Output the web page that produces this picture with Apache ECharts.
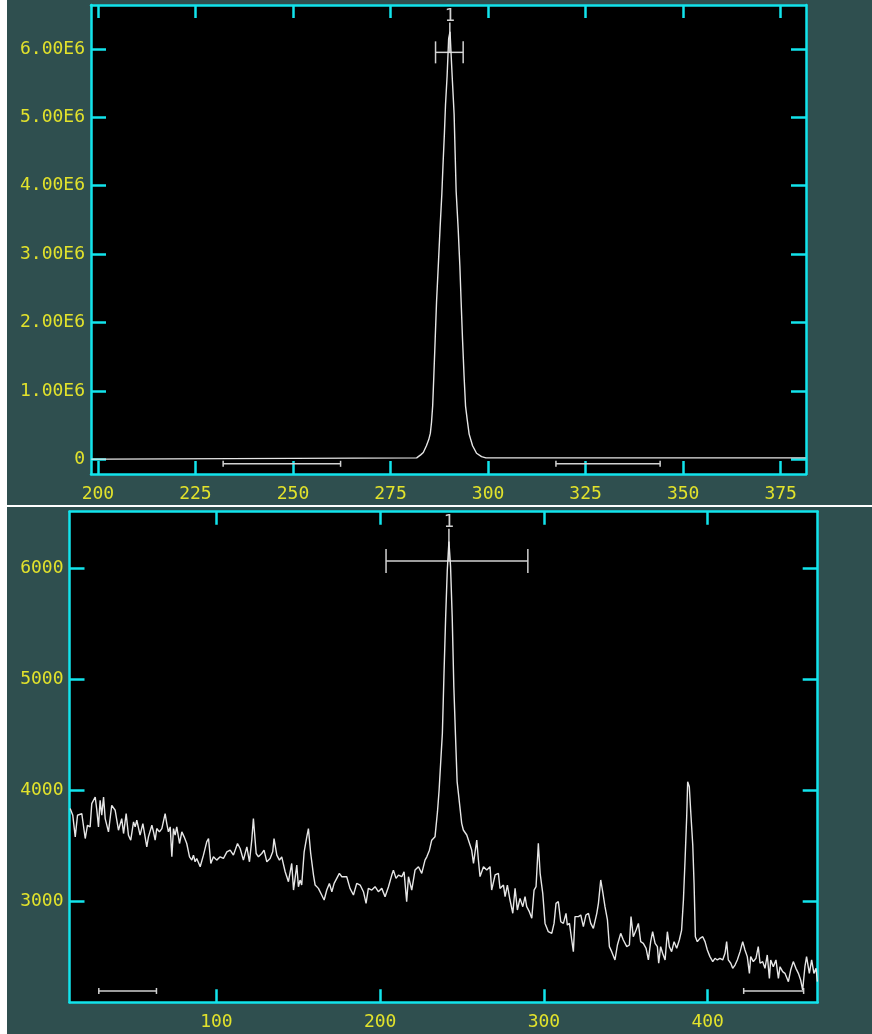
<!DOCTYPE html>
<html>
<head>
<meta charset="utf-8">
<script src="https://cdn.jsdelivr.net/npm/echarts@6/dist/echarts.min.js"></script>
<style>
html, body { margin: 0; padding: 0; background: #ffffff; }
#spectra { width: 872px; height: 1034px; }
</style>
</head>
<body>
<div id="spectra"></div>
<script>
// upper spectrum (single line, values in counts)
const topX = [198.3, 202.5, 202.8, 281.7, 282.1, 282.8, 283.4, 284.2, 284.8, 285.2, 285.5, 285.8,
    286.1, 286.45, 286.8, 287.26, 287.7, 288.15, 288.45, 288.8, 289.1, 289.5, 289.9, 290.25,
    290.8, 291.3, 291.56, 291.82, 292.33, 292.77, 293.1, 293.46, 293.85, 294.23, 294.64, 295.15,
    296.03, 297.05, 298.33, 299.44, 381.4];
const topY = [4000, 4000, 23000, 23000, 40000, 70000, 100000, 200000, 290000, 380000, 540000, 780000,
    1220000, 1760000, 2310000, 2850000, 3380000, 3880000, 4300000, 4750000, 5190000, 5600000, 6150000, 6250000,
    5600000, 5040000, 4480000, 3920000, 3380000, 2830000, 2300000, 1750000, 1220000, 780000, 590000, 370000,
    200000, 90000, 40000, 23000, 23000];

// lower spectrum
const botX = [10.7, 12.3, 13.8, 15.2, 17.8, 18.8, 19.9, 21.3, 22.9, 23.9, 26.0, 27.0, 28.0, 29.0, 30.0,
    31.1, 32.1, 34.1, 36.1, 38.2, 39.2, 40.2, 42.2, 43.3, 44.9, 46.3, 47.7, 49.4, 50.4, 51.4,
    53.4, 55.1, 57.5, 58.5, 60.6, 61.6, 62.6, 63.6, 65.2, 66.7, 68.7, 69.7, 70.7, 71.8, 72.8,
    73.8, 74.8, 75.8, 77.5, 78.9, 80.3, 81.9, 83.6, 85.0, 86.0, 87.0, 88.0, 90.1, 92.1, 94.1,
    95.2, 96.6, 98.2, 100.2, 102.3, 104.3, 106.4, 108.4, 110.4, 112.9, 114.5, 116.5, 118.6, 120.2, 121.6,
    122.6, 124.3, 125.7, 127.7, 129.1, 130.8, 132.8, 134.4, 135.2, 136.9, 138.5, 139.9, 142.0, 144.0, 146.0,
    147.1, 149.1, 150.1, 151.1, 152.1, 153.6, 155.2, 156.2, 157.6, 159.3, 160.3, 162.3, 164.3, 165.8, 167.4,
    169.0, 170.5, 171.9, 173.5, 175.1, 176.6, 179.6, 181.6, 183.7, 185.7, 187.8, 189.8, 191.4, 192.8, 194.9,
    196.9, 198.9, 201.0, 203.0, 205.1, 207.1, 208.1, 209.7, 211.2, 213.2, 214.6, 216.2, 217.3, 219.3, 221.3,
    223.4, 225.4, 227.4, 228.5, 230.1, 231.5, 233.5, 235.0, 236.0, 237.0, 238.0, 239.0, 240.0, 241.0, 242.0,
    243.0, 244.0, 245.0, 246.0, 247.0, 247.8, 249.8, 250.8, 252.9, 255.9, 257.0, 259.0, 260.0, 261.0, 263.1,
    265.1, 267.1, 268.1, 270.2, 272.2, 273.2, 275.3, 276.3, 277.7, 279.3, 281.0, 282.4, 283.8, 285.4, 287.1,
    288.5, 289.5, 291.1, 292.6, 294.0, 295.2, 296.6, 297.7, 299.3, 300.7, 302.7, 304.8, 306.2, 307.4, 308.8,
    310.3, 311.9, 313.5, 314.3, 315.6, 317.0, 318.0, 319.0, 321.1, 322.5, 324.1, 325.7, 327.2, 328.6, 330.2,
    332.3, 333.3, 334.7, 335.9, 337.3, 338.8, 340.0, 341.4, 343.4, 344.9, 346.9, 348.5, 350.6, 352.2, 353.2,
    354.6, 356.3, 357.7, 359.1, 360.7, 362.4, 363.8, 365.2, 366.4, 367.9, 369.3, 370.1, 371.3, 372.5, 374.0,
    375.4, 376.6, 378.0, 379.5, 381.1, 382.7, 384.1, 385.2, 386.2, 387.2, 387.8, 388.8, 389.6, 390.9, 391.7,
    392.5, 393.7, 395.3, 397.0, 398.4, 399.8, 401.4, 403.1, 404.5, 405.9, 407.5, 409.2, 410.6, 411.6, 412.6,
    414.1, 415.3, 416.7, 418.1, 419.8, 421.4, 422.8, 424.2, 425.5, 426.3, 427.9, 429.5, 430.9, 432.0, 433.6,
    435.0, 436.4, 437.7, 438.5, 440.1, 441.7, 443.2, 444.2, 445.8, 447.2, 449.3, 450.7, 452.3, 453.9, 455.4,
    456.8, 458.0, 459.4, 460.4, 462.1, 463.5, 464.9, 466.2, 467.0];
const botY = [3834, 3774, 3579, 3774, 3789, 3804, 3564, 3684, 3669, 3879, 3939, 3819, 3669, 3909, 3774,
    3939, 3744, 3624, 3864, 3819, 3834, 3639, 3744, 3609, 3789, 3594, 3549, 3714, 3669, 3729,
    3594, 3699, 3489, 3579, 3684, 3624, 3549, 3654, 3624, 3654, 3789, 3699, 3624, 3669, 3399,
    3654, 3594, 3669, 3519, 3624, 3579, 3519, 3399, 3369, 3414, 3354, 3384, 3309, 3414, 3534,
    3564, 3339, 3399, 3369, 3399, 3384, 3444, 3459, 3414, 3519, 3474, 3369, 3489, 3354, 3549,
    3744, 3429, 3399, 3429, 3459, 3354, 3384, 3444, 3564, 3414, 3369, 3399, 3264, 3174, 3339,
    3099, 3324, 3129, 3189, 3144, 3444, 3579, 3654, 3429, 3234, 3144, 3114, 3054, 3009, 3099,
    3159, 3084, 3159, 3204, 3249, 3219, 3219, 3114, 3054, 3159, 3144, 3084, 2979, 3114, 3099,
    3129, 3084, 3114, 3039, 3129, 3234, 3279, 3204, 3234, 3219, 3264, 2994, 3219, 3099, 3279,
    3309, 3249, 3369, 3399, 3459, 3549, 3579, 3804, 4000, 4258, 4514, 5056, 5560, 5988, 6244,
    6018, 5567, 4935, 4499, 4078, 3972, 3701, 3641, 3596, 3460, 3340, 3550, 3370, 3220, 3310,
    3280, 3310, 3099, 3235, 3250, 3114, 3144, 3039, 3144, 3009, 2889, 3114, 2919, 3024, 2949,
    3039, 2949, 2904, 2844, 3099, 3129, 3520, 3250, 3069, 2798, 2723, 2708, 2798, 2979, 2994,
    2813, 2798, 2889, 2783, 2798, 2648, 2543, 2859, 2859, 2874, 2768, 2874, 2889, 2798, 2753,
    2889, 2979, 3190, 3084, 2949, 2829, 2588, 2543, 2468, 2603, 2708, 2648, 2588, 2603, 2859,
    2678, 2738, 2798, 2633, 2618, 2573, 2468, 2633, 2723, 2618, 2588, 2438, 2588, 2528, 2468,
    2723, 2588, 2543, 2633, 2573, 2648, 2738, 3009, 3370, 3761, 4077, 4032, 3821, 3505, 3159,
    2678, 2633, 2663, 2678, 2633, 2558, 2498, 2453, 2483, 2468, 2483, 2468, 2528, 2633, 2468,
    2438, 2392, 2422, 2468, 2543, 2633, 2558, 2498, 2347, 2498, 2453, 2483, 2588, 2438, 2453,
    2392, 2513, 2302, 2468, 2407, 2468, 2302, 2407, 2362, 2347, 2272, 2377, 2453, 2392, 2347,
    2287, 2197, 2407, 2498, 2347, 2468, 2347, 2392, 2272];

// tick values
const topXTicks = [200, 225, 250, 275, 300, 325, 350, 375];
const topYTicks = [0, 1000000, 2000000, 3000000, 4000000, 5000000, 6000000];
const botXTicks = [100, 200, 300, 400];
const botYTicks = [3000, 4000, 5000, 6000];

// line markers: cross = [x centre, x left, x right, y bar, y top of stem, y of label]
const topCross = [290.2, 286.54, 293.62, 5949000, 6387000, 6478000];
const botCross = [242.0, 203.6, 290.2, 6070, 6361, 6414];
// range bars: [x from, x to, y]
const topRanges = [[232.1, 262.2, -64000], [317.4, 344.1, -64000]];
const botRanges = [[28.2, 63.4, 2188], [422.0, 458.6, 2188]];

var chartDom = document.getElementById('spectra');
var myChart = echarts.init(chartDom);

const CYAN = '#12e4ec';
const YELLOW = '#e2e22c';
const TRACE = '#e6e6e6';
const MARK = '#d2d2d2';
const FONT = 'DejaVu Sans Mono';

function fmtTop(v) {
    return v === 0 ? '0' : (v / 1e6).toFixed(2) + 'E6';
}
function fmtPlain(v) {
    return String(v);
}

function xAxisPair(grid, min, max, ticks) {
    const base = {
        type: 'value', gridIndex: grid, min: min, max: max,
        splitLine: { show: false },
        axisLine: { onZero: false, lineStyle: { color: CYAN, width: 2.5 } },
        axisTick: { inside: true, length: 13, customValues: ticks, lineStyle: { color: CYAN, width: 2.5 } }
    };
    return [
        Object.assign({}, base, {
            position: 'bottom',
            axisLabel: { customValues: ticks, formatter: fmtPlain, color: YELLOW, fontFamily: FONT, fontSize: 18, margin: 11 }
        }),
        Object.assign({}, base, { position: 'top', axisLabel: { show: false } })
    ];
}

function yAxisPair(grid, min, max, ticks, fmt) {
    const base = {
        type: 'value', gridIndex: grid, min: min, max: max,
        splitLine: { show: false },
        axisLine: { onZero: false, lineStyle: { color: CYAN, width: 2.5 } },
        axisTick: { inside: true, length: 15, customValues: ticks, lineStyle: { color: CYAN, width: 2.5 } }
    };
    return [
        Object.assign({}, base, {
            position: 'left',
            axisLabel: { customValues: ticks, formatter: fmt, color: YELLOW, fontFamily: FONT, fontSize: 18, margin: 6 }
        }),
        Object.assign({}, base, { position: 'right', axisLabel: { show: false } })
    ];
}

function markerRenderer(cross, ranges, capCross, capRange) {
    return function (params, api) {
        const kids = [];
        const seg = (a, b) => kids.push({
            type: 'line',
            shape: { x1: a[0], y1: a[1], x2: b[0], y2: b[1] },
            style: { stroke: MARK, lineWidth: 1.5 }
        });
        const l = api.coord([cross[1], cross[3]]);
        const r = api.coord([cross[2], cross[3]]);
        const c = api.coord([cross[0], cross[3]]);
        const t = api.coord([cross[0], cross[4]]);
        const lab = api.coord([cross[0], cross[5]]);
        seg(l, r);
        seg([l[0], l[1] - capCross], [l[0], l[1] + capCross]);
        seg([r[0], r[1] - capCross], [r[0], r[1] + capCross]);
        seg(t, c);
        kids.push({
            type: 'text', x: lab[0], y: lab[1],
            style: { text: '1', fill: MARK, font: '17px ' + FONT, align: 'center', verticalAlign: 'middle' }
        });
        ranges.forEach(function (rg) {
            const a = api.coord([rg[0], rg[2]]);
            const b = api.coord([rg[1], rg[2]]);
            seg(a, b);
            seg([a[0], a[1] - capRange], [a[0], a[1] + capRange]);
            seg([b[0], b[1] - capRange], [b[0], b[1] + capRange]);
        });
        return { type: 'group', children: kids };
    };
}

var option = {
    backgroundColor: '#2f4f4f',
    animation: false,
    graphic: [
        { type: 'rect', shape: { x: 0, y: 0, width: 7, height: 1034 }, style: { fill: '#ffffff' } },
        { type: 'rect', shape: { x: 0, y: 505, width: 872, height: 2 }, style: { fill: '#ffffff' } }
    ],
    grid: [
        { left: 91, top: 5, right: 66, bottom: 560, show: true, backgroundColor: '#000000', borderWidth: 0 },
        { left: 69.5, top: 511.7, right: 54.3, bottom: 31.7, show: true, backgroundColor: '#000000', borderWidth: 0 }
    ],
    xAxis: xAxisPair(0, 198.23, 381.49, topXTicks).concat(xAxisPair(1, 10.3, 467.2, botXTicks)),
    yAxis: yAxisPair(0, -213000, 6641000, topYTicks, fmtTop).concat(yAxisPair(1, 2085.7, 6514, botYTicks, fmtPlain)),
    series: [
        {
            type: 'line', xAxisIndex: 0, yAxisIndex: 0, showSymbol: false,
            lineStyle: { color: TRACE, width: 1.4 },
            data: topX.map((x, i) => [x, topY[i]])
        },
        {
            type: 'line', xAxisIndex: 2, yAxisIndex: 2, showSymbol: false,
            lineStyle: { color: TRACE, width: 1.4 },
            data: botX.map((x, i) => [x, botY[i]])
        },
        {
            type: 'custom', xAxisIndex: 0, yAxisIndex: 0, data: [0], silent: true,
            renderItem: markerRenderer(topCross, topRanges, 11, 3)
        },
        {
            type: 'custom', xAxisIndex: 2, yAxisIndex: 2, data: [0], silent: true,
            renderItem: markerRenderer(botCross, botRanges, 12, 3)
        }
    ]
};
option && myChart.setOption(option);
</script>
</body>
</html>
